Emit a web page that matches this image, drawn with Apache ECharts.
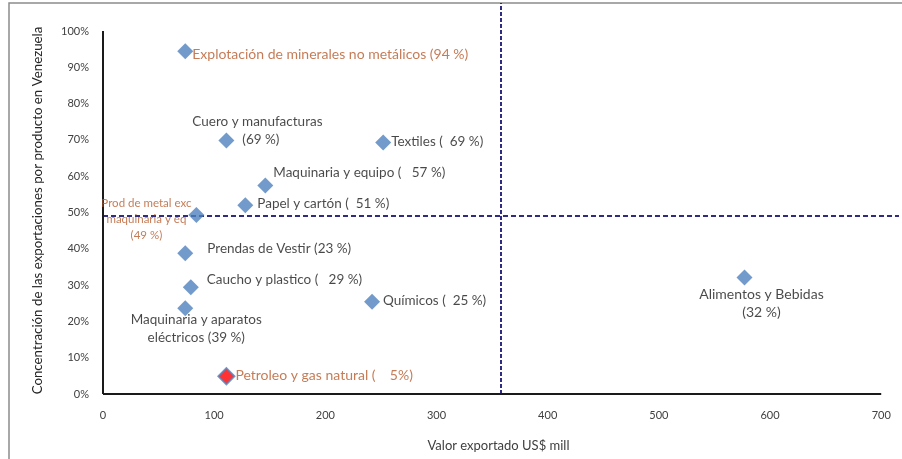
<!DOCTYPE html>
<html>
<head>
<meta charset="utf-8">
<script src="https://cdn.jsdelivr.net/npm/echarts@6/dist/echarts.min.js"></script>
<style>html,body{margin:0;padding:0;background:#fff}#c{width:902px;height:459px}</style>
</head>
<body>
<div id="c"></div>
<script>
// ---- data ----
const names = [
  'Explotación de minerales no metálicos',
  'Cuero y manufacturas',
  'Textiles',
  'Maquinaria y equipo',
  'Papel y cartón',
  'Prod de metal exc maquinaria y eq',
  'Prendas de Vestir',
  'Caucho y plastico',
  'Maquinaria y aparatos eléctricos',
  'Petroleo y gas natural',
  'Químicos',
  'Alimentos y Bebidas'
];
const exportValue = [74, 111, 252, 146, 128, 84, 74, 79, 74, 111, 242, 577];      // US$ mill
const concentration = [0.944, 0.698, 0.693, 0.574, 0.520, 0.493, 0.388, 0.294, 0.236, 0.049, 0.254, 0.321];
const labelTexts = [
  'Explotación de minerales no metálicos (94 %)',
  'Cuero y manufacturas\n  (69 %)',
  'Textiles (  69 %)',
  'Maquinaria y equipo (   57 %)',
  'Papel y cartón (  51 %)',
  'Prod de metal exc\nmaquinaria y eq\n(49 %)',
  'Prendas de Vestir (23 %)',
  'Caucho y plastico (   29 %)',
  'Maquinaria y aparatos\neléctricos (39 %)',
  'Petroleo y gas natural (    5%)',
  'Químicos (  25 %)',
  'Alimentos y Bebidas\n(32 %)'
];
const highlighted = [true, false, false, false, false, true, false, false, false, true, false, false]; // orange labels
const xTicks = [0, 100, 200, 300, 400, 500, 600, 700];
const yTicks = [0, 0.1, 0.2, 0.3, 0.4, 0.5, 0.6, 0.7, 0.8, 0.9, 1.0];
const xThreshold = 358;   // vertical reference line
const yThreshold = 0.495; // horizontal reference line

// ---- label placement (style only) ----
const labelPlace = {
  0: {align: 'left', off: [7, 3], size: 14},
  1: {align: 'center', off: [31, -10]},
  2: {align: 'left', off: [8, -1]},
  3: {align: 'left', off: [8, -13]},
  4: {align: 'left', off: [12, -2]},
  5: {align: 'center', off: [-50, 4], size: 11.5, lh: 16},
  6: {align: 'left', off: [22, -4]},
  7: {align: 'left', off: [16, -8]},
  8: {align: 'center', off: [11, 20]},
  9: {align: 'left', off: [9, -1], size: 14},
  10: {align: 'left', off: [11, -1]},
  11: {align: 'center', off: [17, 26], size: 14}
};

const FONT = "Lato, 'Open Sans', sans-serif";
const BLUE = '#4F81BD', ORANGE = '#B65A2C', DASH = '#2F2C82';

const points = names.map((n, i) => {
  const p = labelPlace[i];
  return {
    name: n,
    value: [exportValue[i], concentration[i]],
    itemStyle: i === 9 ? {color: '#FF0000', borderColor: BLUE, borderWidth: 2} : {color: BLUE},
    label: {
      show: true,
      formatter: labelTexts[i],
      position: 'inside',
      align: p.align,
      verticalAlign: 'middle',
      offset: p.off,
      color: highlighted[i] ? ORANGE : '#1a1a1a',
      fontSize: p.size || 13.5,
      lineHeight: p.lh || 18,
      fontFamily: FONT
    }
  };
});

const X_MAX = 716, Y_MAX = 1.077;
const chart = echarts.init(document.getElementById('c'));
chart.setOption({
  animation: false,
  backgroundColor: '#fff',
  graphic: [{type: 'rect', shape: {x: 9, y: 3, width: 1000, height: 1000}, style: {fill: 'none', stroke: '#8c8c8c', lineWidth: 1.5}, silent: true}],
  grid: {left: 103, right: 2, top: 3, bottom: 65, containLabel: false},
  xAxis: {
    type: 'value', min: 0, max: X_MAX, interval: 100,
    axisLine: {show: false}, axisTick: {show: false}, splitLine: {show: false},
    axisLabel: {
      color: '#404040', fontSize: 11, fontFamily: FONT, margin: 16,
      formatter: v => xTicks.indexOf(v) >= 0 ? String(v) : ''
    },
    name: 'Valor exportado US$ mill', nameLocation: 'middle', nameGap: 45,
    nameTextStyle: {color: '#404040', fontSize: 13, fontFamily: FONT, padding: [0, 0, 0, -5]}
  },
  yAxis: {
    type: 'value', min: 0, max: Y_MAX, interval: 0.1,
    axisLine: {show: false}, axisTick: {show: false}, splitLine: {show: false},
    axisLabel: {
      color: '#404040', fontSize: 11, fontFamily: FONT, margin: 14,
      formatter: v => yTicks.some(t => Math.abs(t - v) < 1e-6) ? Math.round(v * 100) + '%' : ''
    },
    name: 'Concentración de las exportaciones por producto en Venezuela', nameLocation: 'middle', nameGap: 59,
    nameTextStyle: {color: '#262626', fontSize: 13.3, fontFamily: FONT, padding: [0, 24, 0, 0]}
  },
  series: [{
    type: 'scatter',
    symbol: 'diamond',
    symbolSize: 16,
    data: points,
    z: 5,
    markLine: {
      silent: true,
      symbol: 'none',
      label: {show: false},
      z: 3,
      data: [
        {xAxis: xThreshold, lineStyle: {color: DASH, width: 2, type: [4, 2]}},
        {yAxis: yThreshold, lineStyle: {color: DASH, width: 2, type: [5, 3]}},
        [{coord: [0, 0], lineStyle: {color: '#1a1a1a', width: 2, type: 'solid'}}, {coord: [xTicks[xTicks.length - 1], 0]}],
        [{coord: [0, 0], lineStyle: {color: '#1a1a1a', width: 2, type: 'solid'}}, {coord: [0, yTicks[yTicks.length - 1]]}]
      ]
    }
  }]
});
</script>
</body>
</html>
